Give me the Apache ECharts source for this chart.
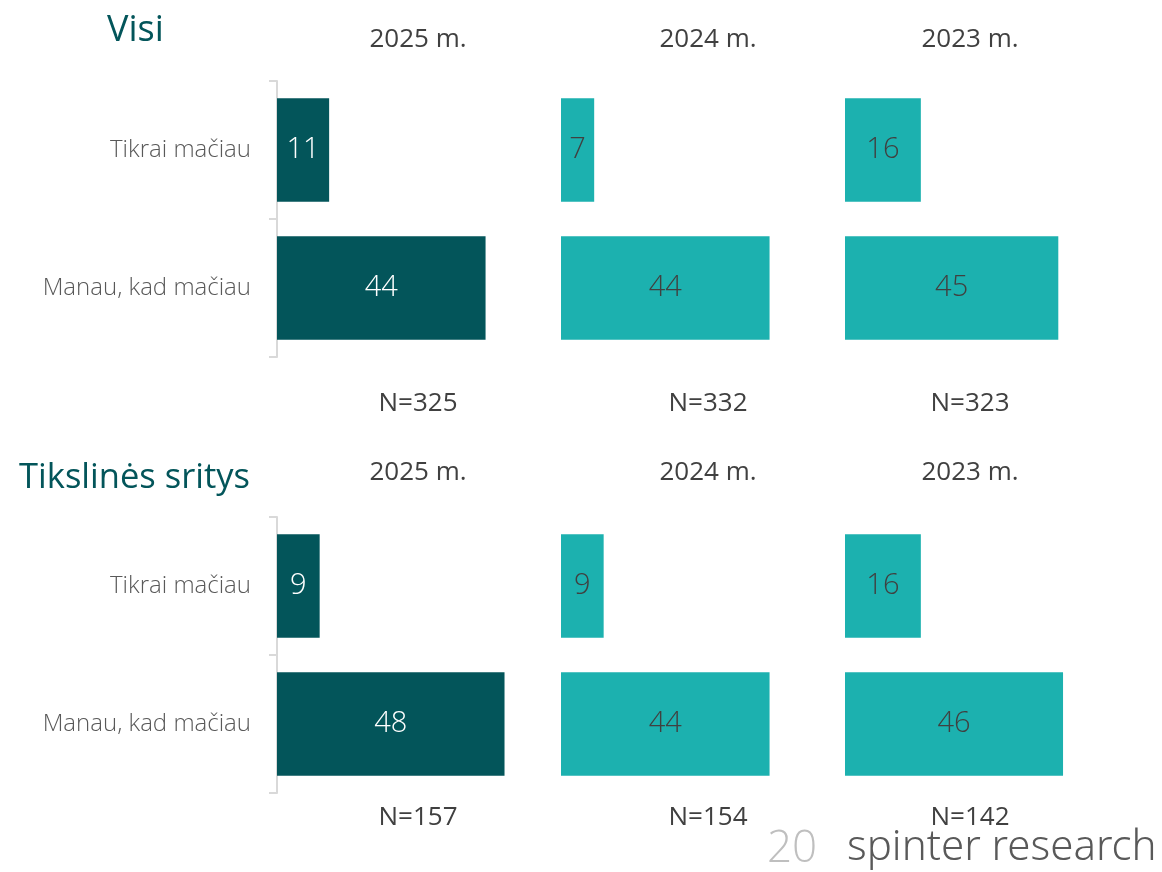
<!DOCTYPE html>
<html>
<head>
<meta charset="utf-8">
<script src="https://cdn.jsdelivr.net/npm/echarts@6/dist/echarts.min.js"></script>
<style>
  html, body { margin: 0; padding: 0; background: #fff; }
  #chart { width: 1162px; height: 872px; }
</style>
</head>
<body>
<div id="chart"></div>
<script>
// duomenys
const years = ['2025 m.', '2024 m.', '2023 m.'];
const categories = ['Tikrai mačiau', 'Manau, kad mačiau'];
const visiValues = [[11, 44], [7, 44], [16, 45]];
const targetValues = [[9, 48], [9, 44], [16, 46]];
const visiN = ['N=325', 'N=332', 'N=323'];
const targetN = ['N=157', 'N=154', 'N=142'];
const groupTitles = ['Visi', 'Tikslinės sritys'];

const DARK = '#03555a';
const LIGHT = '#1cb1af';
const FONT = '"Open Sans", "Noto Sans", sans-serif';

const chart = echarts.init(document.getElementById('chart'));

const colLeft = [277, 561, 845];
const colCenter = [413, 703, 965];
const rowTop = [81, 517];
const rows = [visiValues, targetValues];
const rowN = [visiN, targetN];

const grids = [], xAxes = [], yAxes = [], series = [], titles = [];

rows.forEach((vals, r) => {
    vals.forEach((v, c) => {
        const idx = grids.length;
        grids.push({ left: colLeft[c], top: rowTop[r], width: 237, height: 276 });
        xAxes.push({ gridIndex: idx, type: 'value', min: 0, max: 50, show: false });
        const first = c === 0;
        yAxes.push({
            gridIndex: idx,
            type: 'category',
            inverse: true,
            data: categories,
            axisLine: { show: first, lineStyle: { color: '#d9d9d9', width: 2 } },
            axisTick: { show: first, length: 8, lineStyle: { color: '#d9d9d9', width: 2 } },
            axisLabel: { show: first, margin: 26, fontSize: 24, color: '#595959', fontFamily: FONT, fontWeight: 300 },
            splitLine: { show: false }
        });
        const dark = c === 0;
        series.push({
            type: 'bar',
            xAxisIndex: idx,
            yAxisIndex: idx,
            data: v,
            barWidth: '75%',
            itemStyle: { color: dark ? DARK : LIGHT },
            label: {
                show: true,
                position: 'inside',
                fontSize: 29,
                fontFamily: FONT,
                fontWeight: 300,
                color: dark ? '#ffffff' : '#404040'
            },
            silent: true
        });
    });
});

// antraštės
const textStyle = (size, color, weight) => ({ fontSize: size, color: color, fontFamily: FONT, fontWeight: weight || 'normal' });
titles.push({ text: groupTitles[0], left: 102, top: 8, textStyle: textStyle(36, DARK) });
titles.push({ text: groupTitles[1], right: 907, top: 456, textStyle: textStyle(34.5, DARK) });
[22, 455].forEach((y, r) => {
    years.forEach((yr, c) => {
        titles.push({ text: yr, left: colCenter[c], top: y, textAlign: 'center', textStyle: textStyle(26, '#404040') });
    });
});
[386, 800].forEach((y, r) => {
    rowN[r].forEach((n, c) => {
        titles.push({ text: n, left: colCenter[c], top: y, textAlign: 'center', textStyle: textStyle(26, '#404040') });
    });
});
titles.push({ text: '20', left: 762, top: 822, textStyle: textStyle(44, '#bfbfbf', 300) });
titles.push({ text: 'spinter research', left: 842, top: 822, textStyle: { fontSize: 42, color: '#595959', fontFamily: '"Noto Sans", sans-serif', fontWeight: 300 } });

chart.setOption({
    animation: false,
    title: titles,
    grid: grids,
    xAxis: xAxes,
    yAxis: yAxes,
    series: series
});

window.addEventListener('resize', () => chart.resize());
</script>
</body>
</html>
